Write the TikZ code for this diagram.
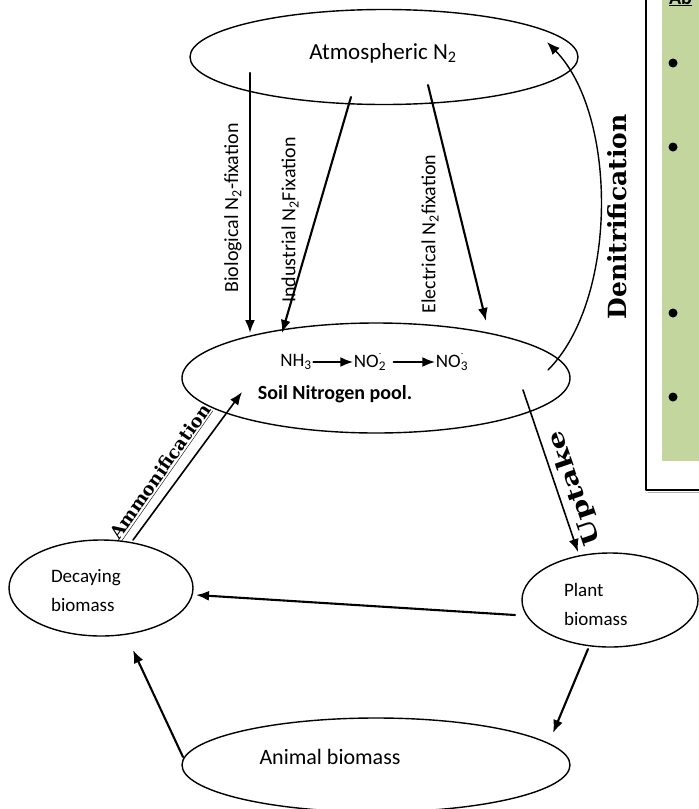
\documentclass[tikz,border=0pt]{standalone}
\usepackage{fontspec}
\setmainfont{Carlito}
\newfontfamily\slabfont{DejaVu Serif}
\usetikzlibrary{shapes.geometric,arrows.meta}
\definecolor{boxgreen}{RGB}{195,214,158}

\begin{document}
\begin{tikzpicture}[x=1pt,y=-1pt,line width=1.4pt,>={Latex[length=13pt,width=10pt]},
  line cap=round,line join=round,
  font=\fontsize{19}{29}\selectfont,
  pool/.style={draw,ellipse,inner sep=0pt},
  flow/.style={->,line width=2.1pt},
  tag/.style={font=\slabfont\bfseries\fontsize{20}{24}\selectfont}]
\clip (0,0) rectangle (699,809);
% box on the right
\fill[boxgreen] (662,-5) rectangle (710,461);
\draw[line width=2pt] (646,-5) -- (646,490) -- (710,490);
\draw[black!30,line width=1pt] (648,492.5) -- (710,492.5);
\node[anchor=base west,font=\bfseries\fontsize{20}{24}\selectfont] (boxhead) at (665,4) {\underline{Ab}};
\foreach \y in {63,147,313,397}
  \fill (673,\y) circle[radius=4.5];
% pools
\node[pool,minimum width=388,minimum height=95] (atm) at (384,57) {};
\node[pool,minimum width=388,minimum height=110] (soil) at (376,378) {};
\node[pool,minimum width=184,minimum height=96] (decay) at (101,588) {};
\node[pool,minimum width=176,minimum height=94] (plant) at (610,600) {};
\node[pool,minimum width=388,minimum height=94] (animal) at (376,765) {};
\node[font=\fontsize{23}{28}\selectfont] (atmtxt) at (383,53) {Atmospheric N\textsubscript{2}};
\node[font=\bfseries\fontsize{20}{24}\selectfont] (soiltxt) at (335,394) {Soil Nitrogen pool.};
\node[anchor=west,align=left] (decaytxt) at (47,591) {Decaying\\biomass};
\node[anchor=west,align=left] (planttxt) at (560,604) {Plant\\biomass};
\node[font=\fontsize{22}{26}\selectfont] (animaltxt) at (330,757) {Animal biomass};
% NH3 -> NO2 -> NO3
\node[inner sep=0pt] (nh3) at (296,362) {NH\textsubscript{3}};
\node[inner sep=0pt] (no2) at (370,362) {NO\rlap{\raisebox{1.2ex}{\footnotesize -}}\textsubscript{2}};
\node[inner sep=0pt] (no3) at (452,362) {NO\rlap{\raisebox{1.2ex}{\footnotesize -}}\textsubscript{3}};
\draw[flow,shorten <=1pt] (nh3.east) -- (no2.west);
\draw[flow,shorten <=7pt] (no2.east) -- (no3.west);
% fixation
\coordinate (bioA) at (250,73);  \coordinate (bioB) at (250,333);
\coordinate (indA) at (351,97);  \coordinate (indB) at (282,333);
\coordinate (eleA) at (428,85);  \coordinate (eleB) at (486,321);
\draw[flow] (bioA) -- (bioB);
\draw[flow] (indA) -- (indB);
\draw[flow] (eleA) -- (eleB);
\node[rotate=90,font=\fontsize{20}{24}\selectfont] (biolbl) at (233,208) {Biological N\textsubscript{2}-fixation};
\node[rotate=90,font=\fontsize{20}{24}\selectfont] (indlbl) at (290,220) {Industrial N\textsubscript{2}Fixation};
\node[rotate=90,font=\fontsize{20}{24}\selectfont] (elelbl) at (430,234) {Electrical N\textsubscript{2}fixation};
% denitrification
\coordinate (denA) at (548,370); \coordinate (denB) at (547,42);
\draw[->] (denA) .. controls (618,300) and (618,115) .. (denB);
\node[tag,rotate=90,font=\slabfont\bfseries\fontsize{25}{28}\selectfont] (denlbl) at (617,217) {Denitrification};
% uptake
\coordinate (uptA) at (523,390); \coordinate (uptB) at (578,552);
\draw[->,line width=1.6pt] (uptA) -- (uptB);
\node[tag,rotate=109,xscale=1.3,font=\slabfont\bfseries\fontsize{23}{26}\selectfont] (uptlbl) at (575,488) {Uptake};
% ammonification
\coordinate (ammA) at (133,540); \coordinate (ammB) at (242,392);
\draw[->,line width=1.6pt] (ammA) -- (ammB);
\node[tag,rotate=55,font=\slabfont\bfseries\fontsize{18}{22}\selectfont] (ammlbl) at (161,472) {\underline{Ammonification}};
% biomass flows
\coordinate (pdA) at (515,615); \coordinate (pdB) at (196,595);
\coordinate (paA) at (588,649); \coordinate (paB) at (553,733);
\coordinate (adA) at (183,757); \coordinate (adB) at (133,650);
\draw[flow] (pdA) -- (pdB);
\draw[flow] (paA) -- (paB);
\draw[flow] (adA) -- (adB);
\end{tikzpicture}
\end{document}
